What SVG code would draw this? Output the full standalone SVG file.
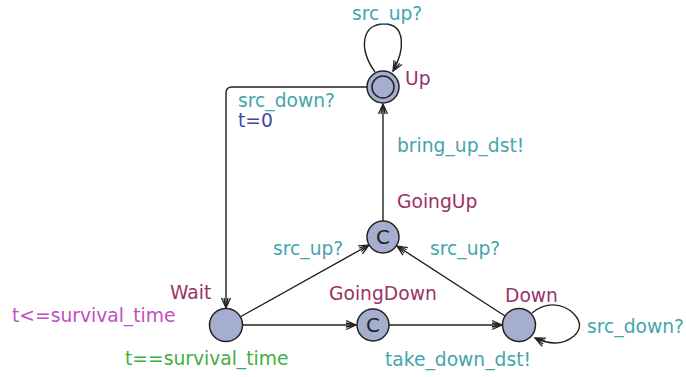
<svg xmlns="http://www.w3.org/2000/svg" width="686" height="377" viewBox="0 0 686 377">
<defs>
<marker id="arr" markerUnits="userSpaceOnUse" markerWidth="14" markerHeight="12" viewBox="-11 -6 12 12" refX="0" refY="0" orient="auto">
<path d="M-10,-4.5 L0,0 L-10,4.5 M-10,-2 L0,0 L-10,2" fill="none" stroke="#222" stroke-width="1.3"/>
</marker>
<style>
text{font-family:"DejaVu Sans","Liberation Sans",sans-serif;font-size:18.7px}
.n{fill:#993366}
.s{fill:#45a5ad}
.a{fill:#4545a8}
.i{fill:#bf4fbf}
.g{fill:#3fae3f}
.loc{fill:#a6aed0;stroke:#222;stroke-width:1.5}
.e{fill:none;stroke:#222;stroke-width:1.4;marker-end:url(#arr)}
.c{font-size:20px;fill:#222;text-anchor:middle}
</style>
</defs>
<g id="connectors">
<path class="e" d="M375,72 C358,48 362,24 384,24 C406,24 405,50 393,71"/>
<path class="e" d="M367,87 H232 Q226,87 226,93 V308"/>
<path class="e" d="M383,221 V104"/>
<path class="e" d="M240,317 L369,245"/>
<path class="e" d="M505,316 L397,246"/>
<path class="e" d="M243,325 H356"/>
<path class="e" d="M389,325 H502"/>
<path class="e" d="M532,313 C545,302 562,302 574,314 Q585,326 574,336 C562,346 548,344 535,338"/>
</g>
<g id="labels">
<text class="s" x="352" y="20">src_up?</text>
<text class="s" x="238" y="107">src_down?</text>
<text class="a" x="238" y="127">t=0</text>
<text class="s" x="397" y="152">bring_up_dst!</text>
<text class="s" x="273" y="255">src_up?</text>
<text class="s" x="430" y="255">src_up?</text>
<text class="g" x="125" y="365">t==survival_time</text>
<text class="s" x="385" y="366">take_down_dst!</text>
<text class="s" x="587" y="333">src_down?</text>
</g>
<g id="Up">
<circle class="loc" cx="383" cy="87" r="16"/>
<circle cx="383" cy="87" r="11" fill="none" stroke="#222" stroke-width="1.5"/>
<text class="n" x="405" y="85">Up</text>
</g>
<g id="GoingUp">
<circle class="loc" cx="383" cy="237" r="16"/>
<text class="c" x="383" y="244">C</text>
<text class="n" x="397" y="208">GoingUp</text>
</g>
<g id="Wait">
<circle class="loc" cx="226" cy="325" r="16.5"/>
<text class="n" x="170" y="299">Wait</text>
<text class="i" x="12" y="322">t&lt;=survival_time</text>
</g>
<g id="GoingDown">
<circle class="loc" cx="373" cy="325" r="16"/>
<text class="c" x="373" y="332">C</text>
<text class="n" x="329" y="300">GoingDown</text>
</g>
<g id="Down">
<circle class="loc" cx="519" cy="325" r="16.5"/>
<text class="n" x="505" y="302">Down</text>
</g>
</svg>
